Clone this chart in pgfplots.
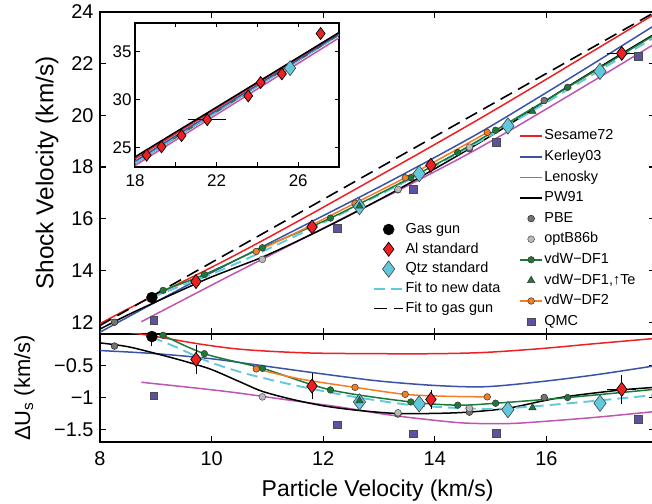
\documentclass[border=0pt]{standalone}
\usepackage{pgfplots}
\pgfplotsset{compat=1.18}
\usepackage{fontspec}
\setmainfont{Liberation Sans}
\definecolor{cRed}{RGB}{237,32,36}
\definecolor{cBlue}{RGB}{58,83,164}
\definecolor{cMag}{RGB}{192,84,178}
\definecolor{cGreen}{RGB}{28,122,56}
\definecolor{cOrange}{RGB}{245,125,35}
\definecolor{cCyan}{RGB}{98,200,220}
\definecolor{cPurple}{RGB}{92,82,162}
\definecolor{cGrayD}{RGB}{115,115,115}
\definecolor{cGrayL}{RGB}{185,185,185}
\pgfplotsset{
  panel/.style={scale only axis, width=555.2bp, xmin=8, xmax=17.95,
    tick align=inside, major tick length=6bp,
    axis line style={line width=1.2bp},
    every tick/.style={black, line width=1.1bp},
    /pgf/number format/assume math mode=true,
    ticklabel style={font=\fontsize{20}{24}\selectfont},
    xtick={8,10,12,14,16}},
  lred/.style={cRed, line width=1.5bp},
  lblue/.style={cBlue, line width=1.5bp},
  lmag/.style={cMag, line width=1.5bp},
  lblack/.style={black, line width=1.5bp},
  lcyan/.style={cCyan, line width=1.9bp, dash pattern=on 11bp off 6bp},
  lgas/.style={black, line width=1.6bp, dash pattern=on 13bp off 7bp},
  lgreen/.style={cGreen, line width=1.5bp},
  lorange/.style={cOrange, line width=1.5bp},
  mgreen/.style={only marks, mark=*, mark size=3.3bp, mark options={fill=cGreen, draw=black!80, line width=0.5bp}},
  morange/.style={only marks, mark=*, mark size=3.3bp, mark options={fill=cOrange, draw=black!80, line width=0.5bp}},
  mpbe/.style={only marks, mark=*, mark size=3.4bp, mark options={fill=cGrayD, draw=black!85, line width=0.5bp}},
  mopt/.style={only marks, mark=*, mark size=3.4bp, mark options={fill=cGrayL, draw=black!70, line width=0.5bp}},
  mtri/.style={only marks, mark=triangle*, mark size=4.2bp, mark options={fill=cGreen, draw=black!80, line width=0.5bp}},
  mqmc/.style={only marks, mark=square*, mark size=3.8bp, mark options={fill=cPurple, draw=black!70, line width=0.5bp}},
  mal/.style={only marks, mark=diamond*, mark size=7bp, mark options={fill=cRed, draw=black, line width=0.7bp}},
  mqtz/.style={only marks, mark=diamond*, mark size=8.2bp, mark options={fill=cCyan, draw=black!75, line width=0.6bp}},
  mgas/.style={only marks, mark=*, mark size=5.5bp, mark options={fill=black, draw=black}},
  ebar/.style={/pgfplots/error bars/y dir=both, /pgfplots/error bars/y explicit,
    /pgfplots/error bars/error bar style={black, line width=0.8bp},
    /pgfplots/error bars/error mark options={black, line width=0.8bp, mark size=3bp}},
  ebarxy/.style={ebar, /pgfplots/error bars/x dir=both, /pgfplots/error bars/x explicit},
}
\begin{document}
\begin{tikzpicture}[x=1bp,y=1bp]
\path[use as bounding box] (0,0) rectangle (652,504);
\clip (0,0) rectangle (652,504);
% ---------------- top panel ----------------
\begin{axis}[panel, at={(100bp,170bp)}, anchor=south west, height=322bp,
  ymin=11.54, ymax=24, ytick={12,14,...,24}, xticklabels={},
  yticklabel style={xshift=-3bp},
  ylabel={Shock Velocity (km/s)},
  ylabel style={font=\fontsize{24.5}{28}\selectfont, at={(axis description cs:-0.084,0.5)}, anchor=base},
  legend style={at={(axis description cs:0.755,0.6405)}, anchor=north west, draw=none, fill=none,
    inner sep=0pt, row sep=4.1bp, font=\fontsize{14.5}{17}\selectfont,
    nodes={inner sep=1.5bp, text height=10.5bp, text depth=3bp}},
  legend cell align=left,
  legend image code/.code={\draw[mark repeat=2,mark phase=2,#1] plot coordinates {(0bp,0bp) (11bp,0bp) (22bp,0bp)};},
]
\addlegendimage{lred}\addlegendentry{Sesame72}
\addlegendimage{lblue}\addlegendentry{Kerley03}
\addlegendimage{lmag}\addlegendentry{Lenosky}
\addlegendimage{lblack}\addlegendentry{PW91}
\addlegendimage{mpbe}\addlegendentry{PBE}
\addlegendimage{mopt}\addlegendentry{optB86b}
\addlegendimage{lgreen, mark=*, mark size=3.3bp, mark options={fill=cGreen, draw=black!80, line width=0.5bp}}\addlegendentry{vdW−DF1}
\addlegendimage{mtri}\addlegendentry{vdW−DF1,↑Te}
\addlegendimage{lorange, mark=*, mark size=3.3bp, mark options={fill=cOrange, draw=black!80, line width=0.5bp}}\addlegendentry{vdW−DF2}
\addlegendimage{mqmc}\addlegendentry{QMC}
% model lines
\addplot[lred, smooth, forget plot] coordinates {(8,11.94) (8.4,12.398) (8.72,12.748) (9.2,13.263) (9.8,13.904) (10.4,14.566) (11,15.257) (11.8,16.202) (12.9,17.533) (14,18.874) (14.9,19.991) (15.9,21.27) (16.9,22.569) (17.95,23.929)};
\addplot[lblue, smooth, forget plot] coordinates {(8,11.61) (9,12.779) (10,13.918) (11,15.017) (12,16.116) (13,17.225) (14,18.374) (14.9,19.451) (15.9,20.75) (16.9,22.079) (17.95,23.499)};
\addplot[lmag, smooth, forget plot] coordinates {(8.74,12.012) (9.5,12.869) (10.4,13.876) (11.3,14.863) (12.3,15.962) (13,16.715) (13.6,17.376) (14.5,18.394) (15.3,19.359) (15.9,20.12) (16.9,21.409) (17.95,22.779)};
\addplot[lblack, smooth, forget plot] coordinates {(8,11.73) (8.5,12.28) (9.1,12.881) (9.6,13.37) (10,13.748) (10.5,14.168) (10.9,14.505) (11.4,14.995) (12,15.616) (12.6,16.277) (13.3,17.081) (14,17.934) (14.6,18.685) (15.3,19.599) (15.9,20.44) (16.4,21.13) (17.35,22.388) (17.95,23.159)};
\addplot[lcyan, smooth, forget plot] coordinates {(8.93,12.954) (9.4,13.357) (9.93,13.793) (10.6,14.419) (11.4,15.225) (12.3,16.162) (13,16.915) (13.6,17.576) (14.3,18.39) (15.05,19.284) (15.9,20.37) (16.9,21.669) (17.95,23.039)};
\addplot[lgas, forget plot] coordinates {(8,11.87) (17.95,23.999)};
\addplot[lgreen, smooth, forget plot] coordinates {(9.13,13.227) (9.87,13.84) (10.91,14.877) (12.13,16.025) (13.57,17.59) (14.41,18.564) (15.09,19.423) (16.38,21.085) (17.95,23.129)};
\addplot[lorange, smooth, forget plot] coordinates {(10.8,14.733) (11.6,15.548) (12.57,16.601) (13.47,17.588) (14.2,18.448) (14.94,19.34)};
% markers
\addplot[mpbe, forget plot] coordinates {(8.26,11.997) (13.34,17.119) (14.62,18.71) (15.96,20.573)};
\addplot[mopt, forget plot] coordinates {(10.91,14.427) (13.34,17.139) (14.62,18.77)};
\addplot[mgreen, forget plot] coordinates {(9.13,13.227) (9.87,13.84) (10.91,14.877) (12.13,16.025) (13.57,17.59) (14.41,18.564) (15.09,19.423) (16.38,21.085)};
\addplot[morange, forget plot] coordinates {(10.8,14.733) (12.57,16.601) (13.47,17.588) (14.94,19.34)};
\addplot[mqmc, forget plot] coordinates {(8.96,12.07) (12.25,15.621) (13.61,17.139) (15.1,18.965) (17.65,22.294)};
\addplot[mqtz, forget plot] coordinates {(12.65,16.468) (13.72,17.743) (15.31,19.591) (16.96,21.702)};
\addplot[mtri, forget plot] coordinates {(12.65,16.488) (15.75,20.157)};
\addplot[mal, ebar, forget plot] coordinates {(9.72,13.567) +- (0,0.15) (11.8,15.682) +- (0,0.15) (13.93,18.069) +- (0,0.12)};
\addplot[mal, ebarxy, forget plot] coordinates {(17.35,22.398) +- (0.21,0.15)};
\addplot[mal, forget plot] coordinates {(17.97,23.3)};
\addplot[mgas, forget plot] coordinates {(8.93,12.95)};
\end{axis}
% ---------------- bottom panel ----------------
\begin{axis}[panel, at={(100bp,62bp)}, anchor=south west, height=108bp,
  ymin=-1.7, ymax=0, ytick={-1.5,-1,-0.5}, yticklabels={−1.5,−1,−0.5},
  xticklabel style={yshift=-6bp}, yticklabel style={xshift=-3bp},
  xlabel={Particle Velocity (km/s)},
  xlabel style={font=\fontsize{23}{27}\selectfont, at={(axis description cs:0.5,-0.509)}, anchor=base},
  ylabel={ΔU\textsubscript{s} (km/s)},
  ylabel style={font=\fontsize{22}{26}\selectfont, at={(axis description cs:-0.126,0.5)}, anchor=base},
  legend style={at={(axis description cs:0.4917,2.046)}, anchor=north west, draw=none, fill=none,
    inner sep=0pt, row sep=3.3bp, font=\fontsize{14.5}{17}\selectfont,
    nodes={inner sep=1.5bp, text height=10.5bp, text depth=3bp}},
  legend cell align=left,
  legend image code/.code={\draw[mark repeat=2,mark phase=2,#1] plot coordinates {(0bp,0bp) (14.5bp,0bp) (29bp,0bp)};},
]
\addlegendimage{mgas}\addlegendentry{Gas gun}
\addlegendimage{mal}\addlegendentry{Al standard}
\addlegendimage{mqtz}\addlegendentry{Qtz standard}
\addlegendimage{lcyan}\addlegendentry{Fit to new data}
\addlegendimage{lgas}\addlegendentry{Fit to gas gun}
\addplot[lred, smooth, forget plot] coordinates {(8,0.07) (8.4,0.04) (8.72,0.0) (9.2,-0.07) (9.8,-0.16) (10.4,-0.23) (11,-0.27) (11.8,-0.30) (12.9,-0.31) (14,-0.31) (14.9,-0.29) (15.9,-0.23) (16.9,-0.15) (17.95,-0.07)};
\addplot[lblue, smooth, forget plot] coordinates {(8,-0.26) (9,-0.31) (10,-0.39) (11,-0.51) (12,-0.63) (13,-0.74) (14,-0.81) (14.9,-0.83) (15.9,-0.75) (16.9,-0.64) (17.95,-0.50)};
\addplot[lmag, smooth, forget plot] coordinates {(8.74,-0.76) (9.5,-0.83) (10.4,-0.92) (11.3,-1.03) (12.3,-1.15) (13,-1.25) (13.6,-1.32) (14.5,-1.40) (15.3,-1.41) (15.9,-1.38) (16.9,-1.31) (17.95,-1.22)};
\addplot[lblack, smooth, forget plot] coordinates {(8,-0.14) (8.5,-0.2) (9.1,-0.33) (9.6,-0.45) (10,-0.56) (10.5,-0.75) (10.9,-0.9) (11.4,-1.02) (12,-1.13) (12.6,-1.2) (13.3,-1.25) (14,-1.25) (14.6,-1.23) (15.3,-1.17) (15.9,-1.06) (16.4,-0.98) (17.35,-0.88) (17.95,-0.84)};
\addplot[lcyan, smooth, forget plot] coordinates {(8.93,-0.05) (9.4,-0.22) (9.93,-0.43) (10.6,-0.62) (11.4,-0.79) (12.3,-0.95) (13,-1.05) (13.6,-1.12) (14.3,-1.16) (15.05,-1.18) (15.9,-1.13) (16.9,-1.05) (17.95,-0.96)};
\addplot[lgreen, smooth, forget plot] coordinates {(9.13,-0.02) (9.87,-0.31) (10.91,-0.54) (12.13,-0.88) (13.57,-1.07) (14.41,-1.12) (15.09,-1.09) (16.38,-1.0) (17.95,-0.87)};
\addplot[lorange, smooth, forget plot] coordinates {(10.8,-0.55) (11.6,-0.71) (12.57,-0.84) (13.47,-0.95) (14.2,-0.98) (14.94,-0.99)};
\addplot[mpbe, forget plot] coordinates {(8.26,-0.19) (13.34,-1.26) (14.62,-1.23) (15.96,-1.0)};
\addplot[mopt, forget plot] coordinates {(10.91,-0.99) (13.34,-1.24) (14.62,-1.17)};
\addplot[mgreen, forget plot] coordinates {(9.13,-0.02) (9.87,-0.31) (10.91,-0.54) (12.13,-0.88) (13.57,-1.07) (14.41,-1.12) (15.09,-1.09) (16.38,-1.0)};
\addplot[morange, forget plot] coordinates {(10.8,-0.55) (12.57,-0.84) (13.47,-0.95) (14.94,-0.99)};
\addplot[mqmc, forget plot] coordinates {(8.96,-0.97) (12.25,-1.43) (13.61,-1.57) (15.1,-1.56) (17.65,-1.34)};
\addplot[mqtz, forget plot] coordinates {(12.65,-1.07) (13.72,-1.10) (15.31,-1.19) (16.96,-1.09)};
\addplot[mtri, forget plot] coordinates {(12.65,-1.05) (15.75,-1.16)};
\addplot[mal, ebar, forget plot] coordinates {(9.72,-0.40) +- (0,0.18) (11.8,-0.82) +- (0,0.16) (13.93,-1.03) +- (0,0.10)};
\addplot[mal, ebarxy, forget plot] coordinates {(17.35,-0.87) +- (0.21,0.18)};
\addplot[mgas, ebar, forget plot] coordinates {(8.93,-0.04) +- (0,0.1)};
\end{axis}
% ---------------- inset ----------------
\begin{axis}[at={(135bp,337bp)}, anchor=south west, scale only axis, width=204bp, height=144bp,
  xmin=18, xmax=28, ymin=23, ymax=38, xtick={18,20,...,28}, xticklabels={18,,22,,26,}, ytick={25,30,35},
  tick align=inside, major tick length=4.5bp, axis line style={line width=1.1bp},
  every tick/.style={black, line width=1bp},
  axis background/.style={fill=white},
  /pgf/number format/assume math mode=true,
  ticklabel style={font=\fontsize{17}{20}\selectfont},
  xticklabel style={yshift=-4bp}]
\addplot[lmag] coordinates {(18,23.15) (28,36.45)};
\addplot[lgreen] coordinates {(18,23.4) (28,36.75)};
\addplot[lcyan] coordinates {(18,23.45) (28,36.8)};
\addplot[lblue] coordinates {(18,23.6) (28,36.85)};
\addplot[lred] coordinates {(18,23.85) (28,37.0)};
\addplot[lblack] coordinates {(18,24.05) (28,37.0)};
\addplot[mal, mark size=6bp] coordinates {(18.57,24.23) (19.3,25.1) (20.28,26.27) (23.55,30.4) (24.16,31.8) (25.2,32.7) (27.1,36.9)};
\addplot[mal, mark size=6bp, ebarxy] coordinates {(21.54,27.93) +- (0.78,0)};
\addplot[mqtz, mark size=7.5bp] coordinates {(25.6,33.3)};
\end{axis}
\end{tikzpicture}
\end{document}
